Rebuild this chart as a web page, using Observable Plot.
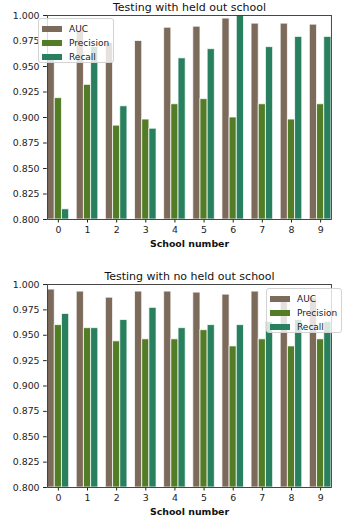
<!DOCTYPE html>
<html>
<head>
<meta charset="utf-8">
<script src="https://cdn.jsdelivr.net/npm/d3@7"></script>
<script src="https://cdn.jsdelivr.net/npm/@observablehq/plot@0.6"></script>
<style>
  body { margin: 0; background: #fff; }
  #wrap { position: relative; width: 348px; height: 516px; overflow: hidden; font-family: "DejaVu Sans", sans-serif; }
  .chart { position: absolute; left: 0; }
  .legend { position: absolute; box-sizing: border-box; width: 76px; height: 45px;
            background: rgba(255,255,255,0.8); border: 1px solid #d3d3d3; border-radius: 3px;
            font: 9px "DejaVu Sans", sans-serif; color: #222; padding: 3px 0 0 3px; }
  .legend .row { display: flex; align-items: center; height: 14px; }
  .legend .sw { width: 20px; height: 6px; margin-right: 7px; }
</style>
</head>
<body>
<div id="wrap"></div>
<script>
const schools = ["0", "1", "2", "3", "4", "5", "6", "7", "8", "9"];
const series = ["AUC", "Precision", "Recall"];
const colors = ["#7c6a5a", "#527d26", "#29805e"];
const yTicks = [0.800, 0.825, 0.850, 0.875, 0.900, 0.925, 0.950, 0.975, 1.000];

// Testing with held out school
const heldAUC       = [0.957, 0.985, 0.973, 0.975, 0.988, 0.989, 0.997, 0.992, 0.992, 0.991];
const heldPrecision = [0.919, 0.932, 0.892, 0.898, 0.913, 0.918, 0.900, 0.913, 0.898, 0.913];
const heldRecall    = [0.810, 0.969, 0.911, 0.889, 0.958, 0.967, 1.000, 0.969, 0.979, 0.979];

// Testing with no held out school
const noHeldAUC       = [0.995, 0.993, 0.987, 0.993, 0.993, 0.992, 0.990, 0.993, 0.984, 0.987];
const noHeldPrecision = [0.960, 0.957, 0.944, 0.946, 0.946, 0.955, 0.939, 0.946, 0.939, 0.946];
const noHeldRecall    = [0.971, 0.957, 0.965, 0.977, 0.957, 0.960, 0.960, 0.963, 0.965, 0.963];

const titles = ["Testing with held out school", "Testing with no held out school"];
const xLabel = "School number";

function table(auc, prec, rec) {
  const vals = [auc, prec, rec];
  const rows = [];
  schools.forEach((s, i) => series.forEach((k, j) => rows.push({school: s, series: k, value: vals[j][i]})));
  return rows;
}

function chart(data, title, height, marginTop, marginBottom) {
  return Plot.plot({
    width: 348,
    height,
    marginLeft: 35,
    marginRight: 5,
    marginTop,
    marginBottom,
    style: {fontFamily: "DejaVu Sans, sans-serif", fontSize: "9.4px", color: "#222", background: "white"},
    fx: {domain: schools, paddingInner: 0.26, paddingOuter: 0.415, round: false, label: null, tickSize: 3.5, tickPadding: 3, axis: "bottom"},
    x: {domain: series, padding: 0, axis: null, round: false},
    y: {domain: [yTicks[0], yTicks[yTicks.length - 1]], ticks: yTicks, tickFormat: ".3f", tickSize: 4, tickPadding: 4, label: null},
    color: {domain: series, range: colors},
    marks: [
      Plot.rectY(data, {fx: "school", x: "series", y1: () => yTicks[0], y2: "value", fill: "series",
                        stroke: "white", strokeOpacity: 0.75, strokeWidth: 1}),
      Plot.frame({facet: "super", stroke: "#333", strokeWidth: 0.9}),
      Plot.text([title], {facet: "super", frameAnchor: "top", lineAnchor: "bottom", dy: -5, fontSize: 11, fill: "#111"}),
      Plot.text([xLabel], {facet: "super", frameAnchor: "bottom", lineAnchor: "middle", dy: 24, fontSize: 9.4, fontWeight: "bold", fill: "#111"})
    ]
  });
}

function legend(left, top) {
  const div = document.createElement("div");
  div.className = "legend";
  div.style.left = left + "px";
  div.style.top = top + "px";
  series.forEach((s, i) => {
    const row = document.createElement("div");
    row.className = "row";
    const sw = document.createElement("span");
    sw.className = "sw";
    sw.style.background = colors[i];
    const t = document.createElement("span");
    t.textContent = s;
    row.appendChild(sw);
    row.appendChild(t);
    div.appendChild(row);
  });
  return div;
}

const wrap = document.getElementById("wrap");
const c1 = chart(table(heldAUC, heldPrecision, heldRecall), titles[0], 250, 15, 31);
c1.classList.add("chart"); c1.style.top = "0px";
const c2 = chart(table(noHeldAUC, noHeldPrecision, noHeldRecall), titles[1], 258, 26, 29);
c2.classList.add("chart"); c2.style.top = "258px";
wrap.appendChild(c1);
wrap.appendChild(c2);
wrap.appendChild(legend(38, 18));
wrap.appendChild(legend(266, 288));
</script>
</body>
</html>
